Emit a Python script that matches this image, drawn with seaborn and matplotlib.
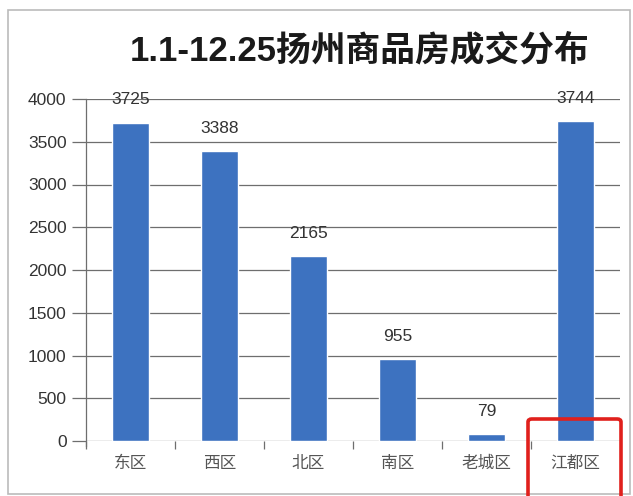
import matplotlib
matplotlib.use("Agg")
import matplotlib.pyplot as plt
import seaborn as sns
import pandas as pd
from matplotlib.patches import Rectangle, FancyBboxPatch

districts = ["东区", "西区", "北区", "南区", "老城区", "江都区"]
volumes = [3725, 3388, 2165, 955, 79, 3744]
yticks = [0, 500, 1000, 1500, 2000, 2500, 3000, 3500, 4000]
title = "1.1-12.25扬州商品房成交分布"

sns.set_theme(style="white")
plt.rcParams['font.family'] = ['Noto Sans CJK SC', 'DejaVu Sans']
LAT = ['Liberation Sans', 'Noto Sans CJK SC', 'DejaVu Sans']

df = pd.DataFrame({"区域": districts, "成交": volumes})

fig = plt.figure(figsize=(6.33, 4.96), dpi=100)
ax = fig.add_axes([86/633, 55/496, (620-86)/633, (441-99)/496])

sns.barplot(data=df, x="区域", y="成交", color="#3d72c0", width=0.42,
            saturation=1, ax=ax, zorder=3)

ax.set_ylim(0, 4000)
ax.set_xlim(-0.5, 5.5)
ax.set_yticks(yticks)
ax.set_yticklabels([str(v) for v in yticks], fontsize=12.5, color="#333333",
                   family=LAT)
for v in yticks:
    ax.axhline(v, color="#6e6e6e", lw=0.9, zorder=1)
ax.tick_params(axis='y', length=10, width=0.9, color="#6e6e6e", pad=4, left=True)
ax.tick_params(axis='x', length=0, pad=10)
ax.set_xticks(range(len(districts)))
ax.set_xticklabels(districts, fontsize=12, color="#555555")
ax.set_xticks([i - 0.5 for i in range(len(districts))], minor=True)
ax.tick_params(axis='x', which='minor', length=6, width=0.9, color="#6e6e6e", bottom=True)
ax.set_xlabel("")
ax.set_ylabel("")
for s in ["top", "right", "bottom"]:
    ax.spines[s].set_visible(False)
ax.spines["left"].set_color("#6e6e6e")
ax.spines["left"].set_linewidth(0.9)
ax.spines["left"].set_bounds(-60, 4000)
ax.spines["left"].set_zorder(4)

for i, v in enumerate(volumes):
    ax.annotate(str(v), (i, v), xytext=(0, 11), textcoords="offset points",
                ha="center", va="bottom", fontsize=12.5, color="#333333",
                family=LAT, zorder=5)

fig.text(360/633, 1 - 50/496, title, ha="center", va="center",
         fontsize=25, fontweight="bold", color="#1a1a1a", family=LAT)

# outer frame
fig.patches.append(Rectangle((8/633, 2/496), 622/633, (486-2)/496,
                             transform=fig.transFigure, fill=False,
                             edgecolor="#bbbbbb", lw=1.2))
# red highlight box
fig.patches.append(FancyBboxPatch((528/633, -10/496), 93/633, (77+10)/496,
                                  boxstyle="round,pad=0,rounding_size=0.006",
                                  transform=fig.transFigure, fill=False,
                                  edgecolor="#e0201c", lw=2.6, clip_on=False))

fig.savefig("out.png", dpi=100)
